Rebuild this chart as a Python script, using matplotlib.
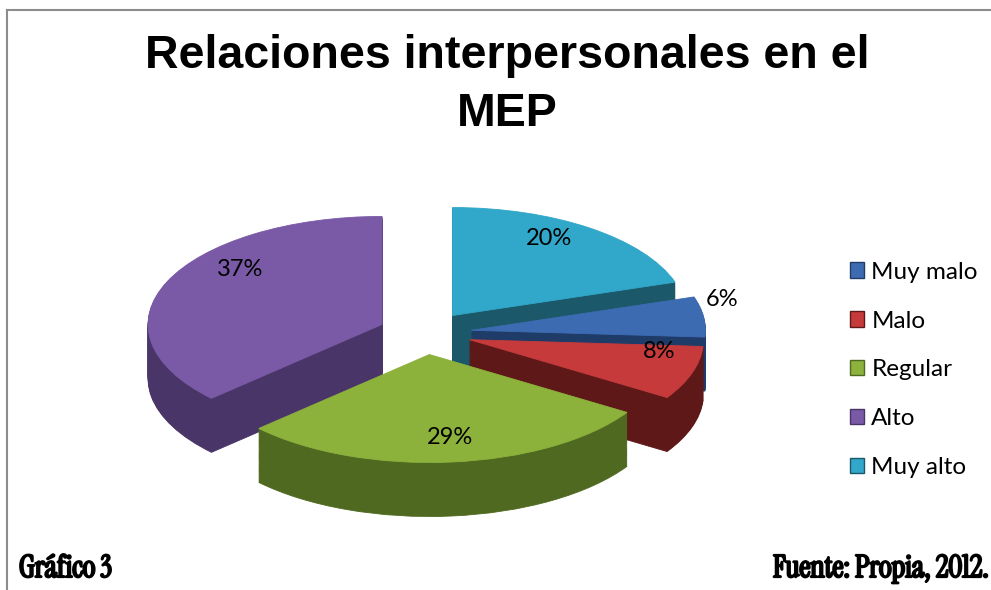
import matplotlib
matplotlib.use("Agg")
import matplotlib.pyplot as plt
import matplotlib.patches as mpatches
import matplotlib.patheffects as pe
from matplotlib.lines import Line2D
import numpy as np

categorias = ["Muy malo", "Malo", "Regular", "Alto", "Muy alto"]
porcentajes = [6, 8, 29, 37, 20]
etiquetas = ["6%", "8%", "29%", "37%", "20%"]

color_cara = ["#3D6BB2", "#C63A3B", "#8DB23C", "#7A5AA6", "#31A7C9"]
color_lado = ["#1F3C68", "#5E1818", "#4F6A20", "#4A3569", "#1B5869"]
# distancia de cada etiqueta desde la punta de su porción (estilo)
dist_etiqueta = [1.08, 0.85, 0.92, 0.66, 0.7]

fig = plt.figure(figsize=(9.91, 5.9), dpi=100)
ax = fig.add_axes([0, 0, 1, 1])

# escala: 1 unidad = rx px en x, ry px en y; centro del pastel en (cx, cy)
rx, ry = 234, 108
cx, cy = 425, 333
prof = 0.5
capas = 50
explotar = [0.2] * len(porcentajes)

# paredes: pasteles apilados hacia abajo
for k in range(capas, 0, -1):
    ax.pie(porcentajes, colors=color_lado, explode=explotar, startangle=18,
           counterclock=False, center=(0, -prof * k / capas), radius=1,
           wedgeprops=dict(linewidth=0.6), frame=True)
    for w in ax.patches[-len(porcentajes):]:
        w.set_edgecolor(w.get_facecolor())

cuñas, _ = ax.pie(porcentajes, colors=color_cara, explode=explotar, startangle=18,
                  counterclock=False, center=(0, 0), radius=1,
                  wedgeprops=dict(linewidth=0.6), frame=True)
for w in cuñas:
    w.set_edgecolor(w.get_facecolor())

for i, w in enumerate(cuñas):
    ang = np.deg2rad((w.theta1 + w.theta2) / 2)
    d = dist_etiqueta[i]
    x = w.center[0] + d * np.cos(ang)
    y = w.center[1] + d * np.sin(ang) + (0.25 if porcentajes[i] > 30 else 0.15)
    ax.text(x, y, etiquetas[i], ha="center", va="center", fontsize=17,
            family="Lato", color="black")

ax.set_aspect("auto")
ax.set_xlim(-cx / rx, (991 - cx) / rx)
ax.set_ylim((cy - 590) / ry, cy / ry)
ax.axis("off")

fig.text(507 / 991, 1 - 85 / 590, "Relaciones interpersonales en el\nMEP",
         ha="center", va="center", fontsize=33.5, fontweight="bold",
         family="Liberation Sans", linespacing=1.42)

manijas = [mpatches.Patch(facecolor=color_cara[i], edgecolor=color_lado[i],
                          label=categorias[i]) for i in range(len(categorias))]
fig.legend(handles=manijas, loc="center left",
           bbox_to_anchor=(850 / 991, 1 - 370 / 590), frameon=False,
           prop=dict(family="Lato", size=17.5), handlelength=0.58,
           handleheight=0.58, handletextpad=0.3, labelspacing=1.15,
           borderpad=0, borderaxespad=0)

grueso = [pe.withStroke(linewidth=1.6, foreground="black")]
fig.text(19 / 991, 1 - 577 / 590, "Gráfico 3", ha="left", va="baseline",
         fontsize=22, family=["Instrument Serif", "Liberation Serif"],
         path_effects=grueso)
fig.text(989 / 991, 1 - 577 / 590, "Fuente: Propia, 2012.", ha="right",
         va="baseline", fontsize=22, family=["Instrument Serif", "Liberation Serif"],
         path_effects=grueso)

fig.add_artist(Line2D([7 / 991, 7 / 991], [0, 1 - 10 / 590], color="#8C8C8C", lw=1.5))
fig.add_artist(Line2D([7 / 991, 1], [1 - 10 / 590, 1 - 10 / 590], color="#8C8C8C", lw=1.5))

fig.savefig("out.png", dpi=100)
